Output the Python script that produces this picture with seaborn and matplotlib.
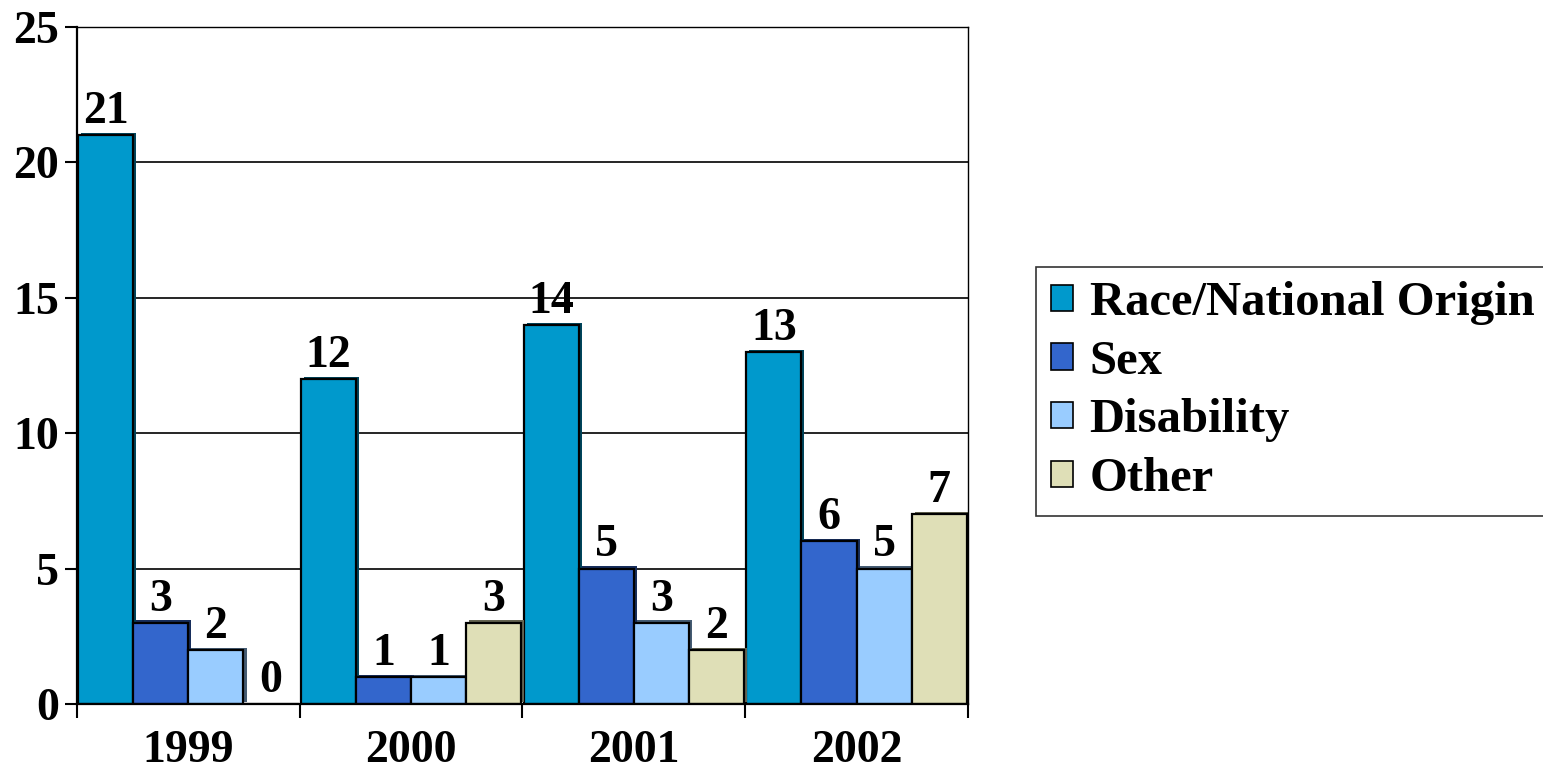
import matplotlib
matplotlib.use("Agg")
import matplotlib.pyplot as plt
import matplotlib.patheffects as pe
import seaborn as sns
import pandas as pd

years = ["1999", "2000", "2001", "2002"]
categories = ["Race/National Origin", "Sex", "Disability", "Other"]
race = [21, 12, 14, 13]
sex = [3, 1, 5, 6]
disability = [2, 1, 3, 5]
other = [0, 3, 2, 7]
colors = ["#0099CC", "#3366CC", "#99CCFF", "#DFDFB7"]

series = [race, sex, disability, other]
df = pd.DataFrame({
    "year": [y for s in series for y in years],
    "category": [c for c, s in zip(categories, series) for _ in years],
    "count": [v for s in series for v in s],
})

sns.set_theme(style="white")
plt.rcParams["font.family"] = ["Liberation Serif", "DejaVu Serif"]
plt.rcParams["font.weight"] = "bold"
plt.rcParams["text.color"] = "black"
plt.rcParams["xtick.color"] = "black"
plt.rcParams["ytick.color"] = "black"
plt.rcParams["axes.labelcolor"] = "black"

fig = plt.figure(figsize=(15.43, 7.73), dpi=100)
ax = fig.add_axes([0.0499, 0.0893, 0.5774, 0.876])

sns.barplot(data=df, x="year", y="count", hue="category", order=years,
            hue_order=categories, palette=colors, width=0.99, dodge=True,
            edgecolor="black", linewidth=1.6, saturation=1, ax=ax, legend=True)

# 3-D style depth on the top and right side of every bar
shadow = [pe.SimplePatchShadow(offset=(2.2, 1.6), rho=0.45, alpha=1.0), pe.Normal()]
for p in ax.patches:
    p.set_path_effects(shadow)

ax.set_xlim(-0.5, 3.5)
ax.set_ylim(0, 25)
ax.set_yticks([0, 5, 10, 15, 20, 25])
ax.yaxis.grid(True, color="black", linewidth=1.2)
ax.set_axisbelow(True)
ax.set_xlabel("")
ax.set_ylabel("")

for side in ["left", "right", "top", "bottom"]:
    ax.spines[side].set_visible(True)
    ax.spines[side].set_color("black")
ax.spines["left"].set_linewidth(1.6)
ax.spines["bottom"].set_linewidth(1.6)
ax.spines["top"].set_linewidth(1.0)
ax.spines["right"].set_linewidth(1.0)

ax.tick_params(axis="y", which="major", length=9, width=1.5, direction="out",
               left=True, labelsize=33, pad=4, labelcolor="black")
ax.tick_params(axis="x", which="major", length=0, labelsize=33, pad=19,
               labelcolor="black")
ax.set_xticks([-0.5, 0.5, 1.5, 2.5, 3.5], minor=True)
ax.tick_params(axis="x", which="minor", length=10, width=1.5, direction="out", bottom=True)
for lbl in ax.get_xticklabels() + ax.get_yticklabels():
    lbl.set_fontweight("bold")

for cont in ax.containers:
    ax.bar_label(cont, labels=[f"{v:.0f}" for v in cont.datavalues],
                 padding=1.5, fontsize=33, fontweight="bold", color="black")

leg = ax.legend(loc="center left", bbox_to_anchor=(1.0766, 0.462), frameon=True,
                fancybox=False, edgecolor="black",
                prop={"weight": "bold", "size": 35},
                handlelength=0.45, handleheight=0.45, handletextpad=0.35,
                labelspacing=0.3, borderpad=0.3, borderaxespad=0)
leg.get_frame().set_linewidth(1.2)
for t in leg.get_texts():
    t.set_color("black")
for h in leg.legend_handles:
    h.set_path_effects([])
    h.set_edgecolor("black")
    h.set_linewidth(1.2)

fig.savefig("out.png", dpi=100)
